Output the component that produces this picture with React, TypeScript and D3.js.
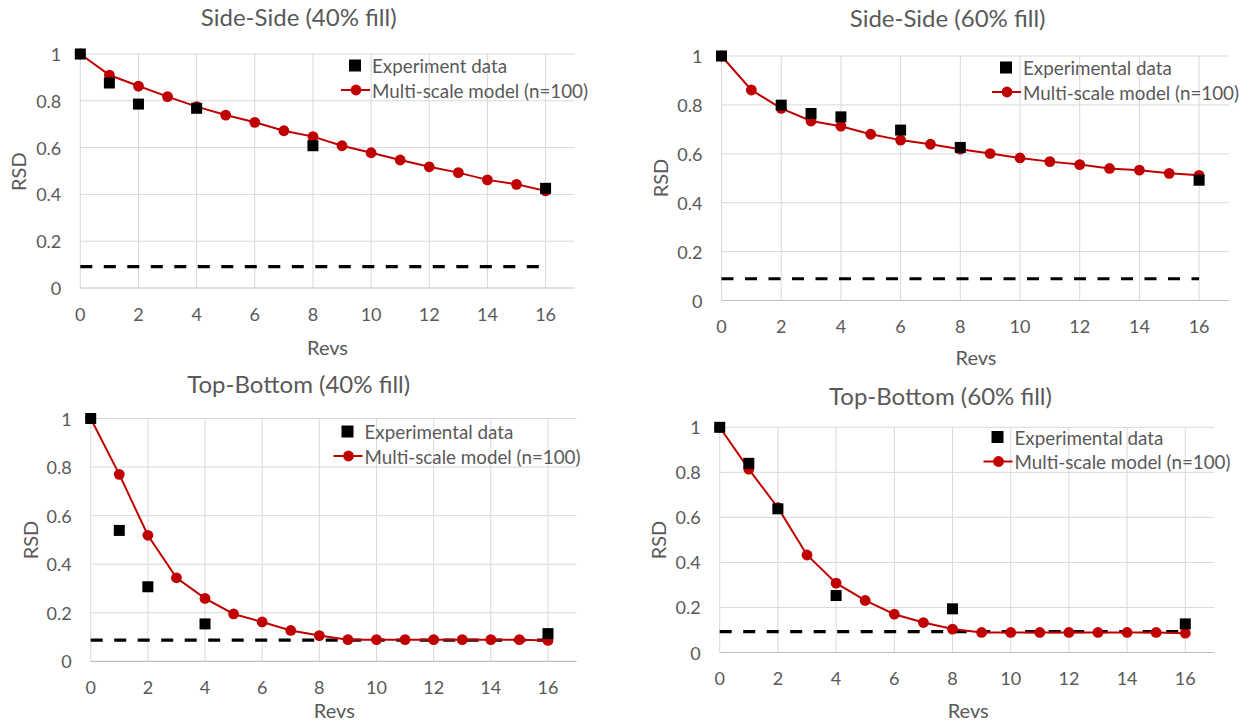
import React from "react";
import * as d3 from "d3";

// Revolutions at which the model was evaluated
const modelRevs = [0, 1, 2, 3, 4, 5, 6, 7, 8, 9, 10, 11, 12, 13, 14, 15, 16];

// Side-Side, 40% fill
const ss40Model = [1.0, 0.91, 0.863, 0.818, 0.775, 0.739, 0.708, 0.672, 0.647, 0.608, 0.578, 0.547, 0.518, 0.493, 0.462, 0.443, 0.415];
const ss40ExpRevs = [0, 1, 2, 4, 8, 16];
const ss40Exp = [1.0, 0.876, 0.786, 0.768, 0.608, 0.426];
const ss40Limit = 0.091;

// Side-Side, 60% fill
const ss60Model = [1.0, 0.861, 0.786, 0.734, 0.713, 0.68, 0.656, 0.639, 0.619, 0.601, 0.583, 0.568, 0.556, 0.54, 0.533, 0.52, 0.512];
const ss60ExpRevs = [0, 2, 3, 4, 6, 8, 16];
const ss60Exp = [1.0, 0.799, 0.765, 0.751, 0.697, 0.626, 0.492];
const ss60Limit = 0.089;

// Top-Bottom, 40% fill
const tb40Model = [1.0, 0.77, 0.519, 0.344, 0.259, 0.195, 0.162, 0.127, 0.106, 0.089, 0.089, 0.089, 0.089, 0.089, 0.089, 0.089, 0.086];
const tb40ExpRevs = [0, 1, 2, 4, 16];
const tb40Exp = [1.0, 0.539, 0.307, 0.154, 0.114];
const tb40Limit = 0.087;

// Top-Bottom, 60% fill
const tb60Model = [1.0, 0.814, 0.643, 0.433, 0.308, 0.231, 0.17, 0.133, 0.104, 0.089, 0.089, 0.089, 0.089, 0.089, 0.089, 0.089, 0.086];
const tb60ExpRevs = [0, 1, 2, 4, 8, 16];
const tb60Exp = [1.0, 0.84, 0.638, 0.253, 0.194, 0.127];
const tb60Limit = 0.093;

const xTicks = [0, 2, 4, 6, 8, 10, 12, 14, 16];
const yTicks = [0, 0.2, 0.4, 0.6, 0.8, 1];
const yTickLabels = ["0", "0.2", "0.4", "0.6", "0.8", "1"];

const TEXT = "#595959";
const GRID = "#d9d9d9";
const RED = "#c00000";
const FONT = "Lato, 'Open Sans', sans-serif";

type PanelProps = {
  title: string;
  expLabel: string;
  model: number[];
  expRevs: number[];
  exp: number[];
  limit: number;
  x0: number;
  unit: number;
  y1: number;
  yBase: number;
  titleX: number;
  titleY: number;
  rsdX: number;
  rsdY: number;
  revsX: number;
  revsY: number;
  legX: number;
  legY: number;
};

function Panel(p: PanelProps) {
  const x = d3.scaleLinear().domain([0, 17]).range([p.x0, p.x0 + 17 * p.unit]);
  const y = d3.scaleLinear().domain([0, 1]).range([p.yBase, p.y1]);
  const line = d3
    .line<number>()
    .x((_, i) => x(modelRevs[i]))
    .y((d) => y(d));
  const [xl, xr] = x.range();
  const sq = 11;
  return (
    <g>
      {/* gridlines */}
      {yTicks.slice(1).map((t) => (
        <line key={"h" + t} x1={xl} x2={xr} y1={y(t)} y2={y(t)} stroke={GRID} strokeWidth={1} />
      ))}
      {xTicks.map((t) => (
        <line key={"v" + t} x1={x(t)} x2={x(t)} y1={y(1)} y2={y(0)} stroke={GRID} strokeWidth={1} />
      ))}
      <line x1={xl} x2={xr} y1={y(0)} y2={y(0)} stroke="#bfbfbf" strokeWidth={1.2} />

      {/* tick labels */}
      {yTicks.map((t, i) => (
        <text key={"yl" + t} x={xl - 19} y={y(t)} textAnchor="end" dominantBaseline="central"
          fontSize={18} fill={TEXT} fontFamily={FONT}>
          {yTickLabels[i]}
        </text>
      ))}
      {xTicks.map((t) => (
        <text key={"xl" + t} x={x(t)} y={y(0) + 25.5} textAnchor="middle" dominantBaseline="central"
          fontSize={18} fill={TEXT} fontFamily={FONT}>
          {t}
        </text>
      ))}

      {/* titles */}
      <text x={p.titleX} y={p.titleY} textAnchor="middle" dominantBaseline="central" fontSize={24}
        fill={TEXT} fontFamily={FONT}>
        {p.title}
      </text>
      <text x={p.revsX} y={p.revsY} textAnchor="middle" dominantBaseline="central" fontSize={20}
        fill={TEXT} fontFamily={FONT}>
        Revs
      </text>
      <text transform={`translate(${p.rsdX},${p.rsdY}) rotate(-90)`} textAnchor="middle"
        dominantBaseline="central" fontSize={20} fill={TEXT} fontFamily={FONT}>
        RSD
      </text>

      {/* mixing limit */}
      <line x1={x(0)} x2={x(16)} y1={y(p.limit)} y2={y(p.limit)} stroke="#000" strokeWidth={3.2}
        strokeDasharray="12 11.5" />

      {/* model series */}
      <path d={line(p.model) || ""} fill="none" stroke={RED} strokeWidth={2} />
      {p.model.map((v, i) => (
        <circle key={"c" + i} cx={x(modelRevs[i])} cy={y(v)} r={5.4} fill={RED} />
      ))}

      {/* experimental series */}
      {p.exp.map((v, i) => (
        <rect key={"s" + i} x={x(p.expRevs[i]) - sq / 2} y={y(v) - sq / 2} width={sq} height={sq} fill="#000" />
      ))}

      {/* legend */}
      <rect x={p.legX - 6} y={p.legY - 6} width={12} height={12} fill="#000" />
      <text x={p.legX + 17} y={p.legY} dominantBaseline="central" fontSize={18.8} fill={TEXT} fontFamily={FONT}>
        {p.expLabel}
      </text>
      <line x1={p.legX - 14} x2={p.legX + 15} y1={p.legY + 24.5} y2={p.legY + 24.5} stroke={RED} strokeWidth={2} />
      <circle cx={p.legX + 1} cy={p.legY + 24.5} r={5.4} fill={RED} />
      <text x={p.legX + 17} y={p.legY + 24.5} dominantBaseline="central" fontSize={18.8} fill={TEXT}
        fontFamily={FONT}>
        Multi-scale model (n=100)
      </text>
    </g>
  );
}

export default function App() {
  return (
    <svg width={1248} height={723} style={{ position: "absolute", left: 0, top: 0, background: "#fff" }}>
      <rect width={1248} height={723} fill="#fff" />
      <Panel title="Side-Side (40% fill)" expLabel="Experiment data" model={ss40Model} expRevs={ss40ExpRevs}
        exp={ss40Exp} limit={ss40Limit} x0={80.3} unit={29.08} y1={54} yBase={288} titleX={298.7} titleY={16.7}
        rsdX={17.8} rsdY={171.7} revsX={327.5} revsY={346.7} legX={355} legY={65.5} />
      <Panel title="Side-Side (60% fill)" expLabel="Experimental data" model={ss60Model} expRevs={ss60ExpRevs}
        exp={ss60Exp} limit={ss60Limit} x0={721.5} unit={29.85} y1={56} yBase={300.5} titleX={947.6} titleY={17}
        rsdX={659.6} rsdY={178} revsX={976} revsY={357} legX={1006} legY={67.5} />
      <Panel title="Top-Bottom (40% fill)" expLabel="Experimental data" model={tb40Model} expRevs={tb40ExpRevs}
        exp={tb40Exp} limit={tb40Limit} x0={90.7} unit={28.58} y1={418.5} yBase={661.3} titleX={298.7}
        titleY={383.3} rsdX={29.7} rsdY={540} revsX={334.3} revsY={710} legX={347.5} legY={431.5} />
      <Panel title="Top-Bottom (60% fill)" expLabel="Experimental data" model={tb60Model} expRevs={tb60ExpRevs}
        exp={tb60Exp} limit={tb60Limit} x0={719.7} unit={29.1} y1={427.3} yBase={652.5} titleX={940.5}
        titleY={395} rsdX={657.7} rsdY={540} revsX={968.2} revsY={710} legX={997.5} legY={437} />
    </svg>
  );
}
